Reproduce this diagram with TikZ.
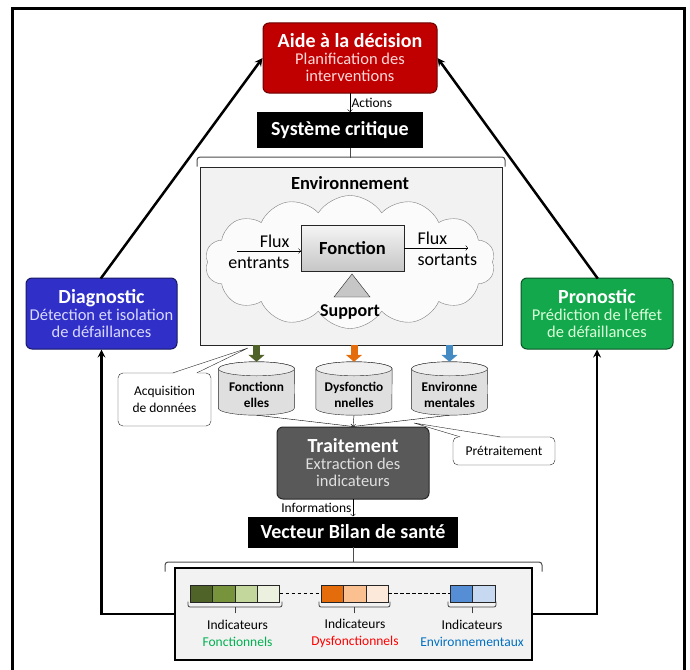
\documentclass[tikz,border=0pt]{standalone}
\usepackage{fontspec}
\setmainfont{Carlito}
\usetikzlibrary{shapes.symbols,arrows.meta}

\definecolor{decisionred}{HTML}{C00000}
\definecolor{diagblue}{HTML}{3030C8}
\definecolor{pronogreen}{HTML}{13A84C}
\definecolor{traitgray}{HTML}{595959}
\definecolor{envfill}{HTML}{F2F2F2}
\definecolor{fonagreen}{HTML}{4F6228}
\definecolor{fonbgreen}{HTML}{77933C}
\definecolor{foncgreen}{HTML}{C3D69B}
\definecolor{fondgreen}{HTML}{EBF1DE}
\definecolor{dysaorange}{HTML}{E46C0A}
\definecolor{dysborange}{HTML}{FAC090}
\definecolor{dyscorange}{HTML}{FDE9D9}
\definecolor{envablue}{HTML}{558ED5}
\definecolor{envbblue}{HTML}{C6D9F1}
\definecolor{txtgreen}{HTML}{00B050}
\definecolor{txtred}{HTML}{FF0000}
\definecolor{txtblue}{HTML}{0070C0}

\newcommand\titlefont{\fontsize{20}{22}\selectfont\bfseries}
\newcommand\subfont{\fontsize{16.5}{20}\selectfont}
% brace opening downwards, tick upwards
\newcommand\topbrace[3]{
  \draw[gray!60!black, line width=1pt, rounded corners=3pt] (#1,#3+9) -- (#1,#3) -- (#2,#3) -- (#2,#3+9);
}
% brace opening upwards, tick downwards
\newcommand\indicbrace[3]{
  \draw[gray!50!black, line width=0.8pt, rounded corners=2pt] (#1,#3-5) -- (#1,#3) -- (#2,#3) -- (#2,#3-5);
  \draw[gray!50!black, line width=0.8pt] ({(#1+#2)/2},#3) -- ++(0,6);
}
% data base cylinder: name, x, y
\newcommand\datacyl[3]{
  \node[minimum width=76, minimum height=53, inner sep=0pt] (#1) at (#2,#3) {};
  \draw[draw=gray!30!black, fill=gray!25] ([yshift=-7pt]#1.north west) -- ([yshift=7pt]#1.south west)
    arc[start angle=180, end angle=360, x radius=38pt, y radius=7pt] -- ([yshift=-7pt]#1.north east)
    arc[start angle=0, end angle=180, x radius=38pt, y radius=7pt] -- cycle;
  \draw[draw=gray!30!black, fill=gray!12] ([yshift=-7pt]#1.north) ellipse [x radius=38pt, y radius=7pt];
}

\tikzset{
  mainbox/.style={draw, rounded corners=6pt, line width=1pt, text=white, align=center, inner sep=2pt},
  blackbox/.style={fill=black, text=white, font=\fontsize{20}{22}\selectfont\bfseries},
  notebox/.style={draw=gray!30!black, fill=white, rounded corners=5pt, align=center, font=\fontsize{13.5}{17}\selectfont},
  cyltext/.style={align=center, font=\fontsize{13.3}{16}\selectfont\bfseries},
  sq/.style={draw=gray!30!black, minimum width=22.4, minimum height=17, inner sep=0pt},
  flowarrow/.style={line cap=butt, line width=7pt, -{Triangle[width=16pt,length=7pt]}},
}

\begin{document}
\begin{tikzpicture}[x=1pt,y=-1pt,line cap=rect,font=\fontsize{13.5}{17}\selectfont]
\useasboundingbox (0,0) rectangle (690,669);

% Outer frame
\draw[line width=3pt] (12,669) -- (12,9) -- (684,9) -- (684,669);

% Decision
\node[mainbox, fill=decisionred, draw=decisionred!55!black, minimum width=174, minimum height=70] (aide) at (350,58)
  {\titlefont Aide à la décision\\ \subfont\color{white!85!red}Planification des\\ \subfont\color{white!85!red}interventions};

% Critical system
\node[blackbox, minimum width=166, minimum height=36] (syst) at (340,130) {Système critique};
\draw[->] (aide.south) -- (aide.south |- syst.north) node[midway, right=-2pt] {Actions};
\draw[gray!60!black, line width=1pt] (aide.south |- syst.south) -- ++(0,9);
\topbrace{197}{505}{157}

% Environment
\node[draw=gray!30!black, fill=envfill, minimum width=302, minimum height=178] (env) at (351,256) {};
\node[font=\fontsize{18.5}{20}\selectfont\bfseries] (envlabel) at (350,183) {Environnement};
\node[cloud, cloud puffs=14, cloud puff arc=115, cloud ignores aspect, draw=gray, fill=gray!3,
  minimum width=290, minimum height=133] (cloud) at (350,262) {};
\node[draw=gray!30!black, top color=gray!8, bottom color=gray!45, minimum width=103, minimum height=46,
  font=\fontsize{18.5}{20}\selectfont\bfseries] (fonc) at (352.5,248) {Fonction};
\coordinate (fluxin) at (237,251);
\coordinate (fluxout) at (468,248);
\draw[->] (fluxin) -- (fonc.west |- fluxin);
\draw[->] (fonc.east |- fluxout) -- (fluxout);
\node[anchor=east, align=right, font=\fontsize{18}{21}\selectfont] (inlabel) at (293,252) {Flux\\entrants};
\node[anchor=west, align=left, font=\fontsize{18}{21}\selectfont] (outlabel) at (414,249) {Flux\\sortants};
\draw[draw=gray!30!black, fill=gray!45] (352,274) -- (370,297) -- (334,297) -- cycle;
\node[font=\fontsize{18}{20}\selectfont\bfseries] (supp) at (350,312) {Support};

% Diagnostic and prognostic
\node[mainbox, fill=diagblue, draw=diagblue!50!black, minimum width=151, minimum height=71] (diag) at (101.5,313.5)
  {\titlefont Diagnostic\\ \subfont\color{white!85!blue}Détection et isolation\\ \subfont\color{white!85!blue}de défaillances};
\node[mainbox, fill=pronogreen, draw=pronogreen!50!black, minimum width=152, minimum height=71] (prono) at (597,313.5)
  {\titlefont Pronostic\\ \subfont\color{white!85!green}Prédiction de l'effet\\ \subfont\color{white!85!green}de défaillances};
\draw[->, >=stealth, line width=2.5pt] (diag.north) -- (aide.west);
\draw[->, >=stealth, line width=2.5pt] (prono.north) -- (aide.east);

% Data bases
\datacyl{cfon}{256.5}{388.5}
\datacyl{cdys}{354}{388.5}
\datacyl{cenv}{449.5}{388.5}
\node[cyltext] (tfon) at ([yshift=-6.5pt]cfon.center) {Fonctionn\\elles};
\node[cyltext] (tdys) at ([yshift=-6.5pt]cdys.center) {Dysfonctio\\nnelles};
\node[cyltext] (tenv) at ([yshift=-6.5pt]cenv.center) {Environne\\mentales};
\draw[flowarrow, fonagreen] (env.south -| cfon.north) -- (cfon.north);
\draw[flowarrow, dysaorange] (env.south -| cdys.north) -- (cdys.north);
\draw[flowarrow, envablue!80!teal] (env.south -| cenv.north) -- (cenv.north);

% Acquisition note
\node[notebox, minimum width=93, minimum height=53] (acq) at (164.5,399.5) {Acquisition\\de données};
\coordinate (acqtip) at (248,348);
\fill[white] ([xshift=8.5pt,yshift=-1pt]acq.north) -- (acqtip) -- ([xshift=32.5pt,yshift=-1pt]acq.north) -- cycle;
\draw[gray!30!black] ([xshift=8.5pt]acq.north) -- (acqtip) -- ([xshift=32.5pt]acq.north);

% Processing
\node[mainbox, fill=traitgray, draw=traitgray!45!black, minimum width=152, minimum height=72] (trait) at (353,463)
  {\titlefont Traitement\\ \subfont\color{gray!25}Extraction des\\ \subfont\color{gray!25}indicateurs};
\draw (cfon.south) -- (trait.north);
\draw (cenv.south) -- (trait.north);
\draw[->] (cdys.south) -- (trait.north);

% Preprocessing note
\node[notebox, minimum width=102, minimum height=28] (pret) at (504,451) {Prétraitement};
\coordinate (prettip) at (414,423);
\fill[white] ([xshift=-44pt,yshift=-1pt]pret.north) -- (prettip) -- ([xshift=-4pt,yshift=-1pt]pret.north) -- cycle;
\draw[gray!30!black] ([xshift=-44pt]pret.north) -- (prettip) -- ([xshift=-4pt]pret.north);

% Health vector
\node[blackbox, minimum width=210, minimum height=31] (vect) at (353,532) {Vecteur Bilan de santé};
\draw[->] (trait.south) -- (vect.north) node[midway, left=-2pt] {Informations};
\draw[gray!60!black, line width=1pt] (vect.south) -- ++(0,14);
\topbrace{165}{542}{562}
\node[draw, line width=1.5pt, fill=envfill, minimum width=357, minimum height=92] (bilan) at (353.5,614) {};

\foreach \col [count=\i] in {fonagreen,fonbgreen,foncgreen,fondgreen}
  \node[sq, fill=\col] (g\i) at ({190+11.2+(\i-1)*22.4},593.5) {};
\foreach \col [count=\i] in {dysaorange,dysborange,dyscorange}
  \node[sq, fill=\col] (o\i) at ({321+11.2+(\i-1)*22.4},593.5) {};
\foreach \col [count=\i] in {envablue,envbblue}
  \node[sq, fill=\col] (b\i) at ({450+11.2+(\i-1)*22.4},593.5) {};
\draw[dashed] (g4.east) -- (o1.west);
\draw[dashed] (o3.east) -- (b1.west);
\indicbrace{188}{282}{607}
\indicbrace{319}{390}{607}
\indicbrace{448}{496}{607}

\foreach \x/\name/\col/\lbl in {237.5/fonctxt/txtgreen/Fonctionnels, 355/dystxt/txtred/Dysfonctionnels, 472/envtxt/txtblue/Environnementaux}
  \node[align=center] (\name) at (\x,633.5) {Indicateurs\\ \textcolor{\col}{\lbl}};

% Feedback to diagnostic and prognostic
\draw[->, >=stealth, line width=2.5pt] (bilan.west) -| (diag.south);
\draw[->, >=stealth, line width=2.5pt] (bilan.east) -| (prono.south);

\end{tikzpicture}
\end{document}
